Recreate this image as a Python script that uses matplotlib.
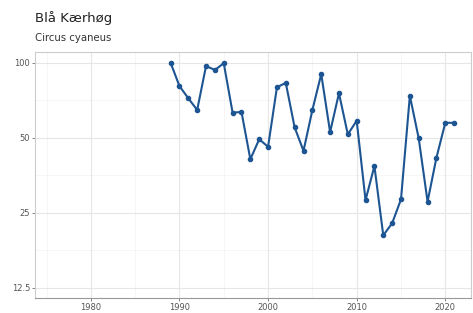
import numpy as np
import matplotlib
matplotlib.use("Agg")
import matplotlib.pyplot as plt

years = list(range(1989, 2022))
index = [100, 80.6, 72, 64.6, 97, 93.5, 99.5, 63, 63.5, 41, 49.3, 46,
         79.7, 83, 55, 44.3, 64.6, 90, 52.7, 75.4, 51.6, 58.5, 28.1, 38.5,
         20.3, 22.7, 28.3, 73.7, 49.7, 27.7, 41.6, 57.4, 57.4]
y_ticks = [12.5, 25, 50, 100]
y_labels = ["12.5", "25", "50", "100"]
x_ticks = [1980, 1990, 2000, 2010, 2020]

fig = plt.figure(figsize=(4.73, 3.13), dpi=100)
ax = fig.add_axes([35 / 473, 15 / 313, 436 / 473, 246 / 313])

ax.set_yscale("log", base=2)
ax.set_xlim(1973.7, 2022.9)
ax.set_ylim(11.38, 110.4)

# grid, ggplot style
for v in [1975, 1985, 1995, 2005, 2015]:
    ax.axvline(v, color="#f3f3f3", lw=0.5, zorder=0)
for v in [17.68, 35.36, 70.71]:
    ax.axhline(v, color="#f3f3f3", lw=0.5, zorder=0)
for v in x_ticks:
    ax.axvline(v, color="#e6e6e6", lw=0.8, zorder=0)
for v in y_ticks:
    ax.axhline(v, color="#e6e6e6", lw=0.8, zorder=0)

ax.plot(years, index, color="#1d5592", lw=1.5, marker="o", ms=3.0, zorder=3)

ax.set_yticks(y_ticks)
ax.set_yticklabels(y_labels)
ax.yaxis.set_minor_locator(matplotlib.ticker.NullLocator())
ax.set_xticks(x_ticks)
ax.tick_params(axis="both", labelsize=6, labelcolor="#555555", color="#555555",
               length=2, width=0.5, pad=1.5)

for s in ["top", "right", "left"]:
    ax.spines[s].set_color("#cccccc")
    ax.spines[s].set_linewidth(0.8)
ax.spines["bottom"].set_color("#999999")
ax.spines["bottom"].set_linewidth(0.8)

fig.text(35 / 473, 1 - 18 / 313, "Blå Kærhøg", fontsize=9.5, color="#222222", va="center")
fig.text(35 / 473, 1 - 38 / 313, "Circus cyaneus", fontsize=7.3, color="#333333", va="center")

fig.savefig("out.png", dpi=100)
